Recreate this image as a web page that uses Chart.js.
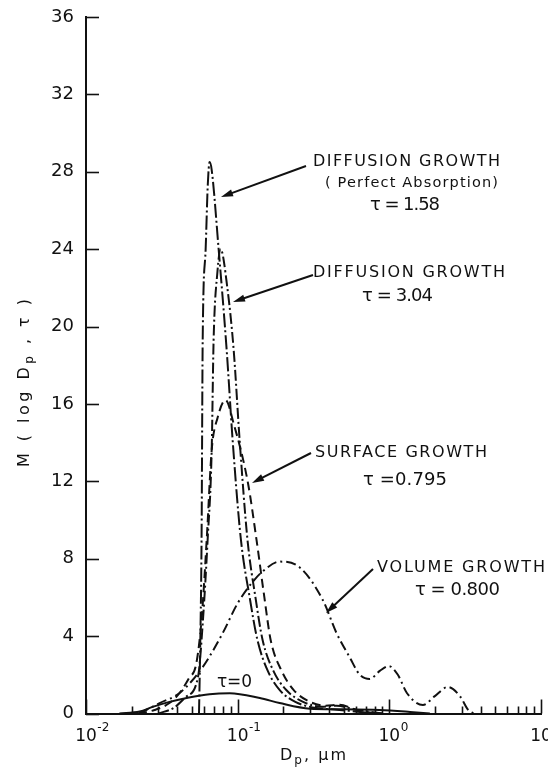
<!DOCTYPE html>
<html>
<head>
<meta charset="utf-8">
<script src="https://cdn.jsdelivr.net/npm/chart.js@4.4.1/dist/chart.umd.min.js"></script>
<style>
  html, body { margin: 0; padding: 0; background: #fff; }
  canvas { display: block; }
</style>
</head>
<body>
<canvas id="chart" width="548" height="769"></canvas>
<script>
// tau = 0 (distribution initiale)
const tau0D = [0.0166, 0.0226, 0.0275, 0.0355, 0.0461, 0.0653, 0.0886, 0.140, 0.189, 0.299, 0.47, 0.86, 1.37, 1.85];
const tau0M = [0, 0.1, 0.34, 0.6, 0.8, 1.0, 1.05, 0.8, 0.54, 0.25, 0.22, 0.18, 0.08, 0];

// diffusion growth, perfect absorption, tau = 1.58
const absorbD = [0.0556, 0.0565, 0.0578, 0.0588, 0.0615, 0.0635, 0.0653, 0.0674, 0.0749, 0.0846, 0.0927, 0.105, 0.120, 0.135, 0.158, 0.19, 0.24, 0.32, 0.45, 0.7, 0.9];
const absorbM = [0, 3, 9, 19.3, 24, 27.3, 28.5, 28.1, 24.0, 18.8, 14.1, 9.0, 6.0, 3.8, 2.2, 1.2, 0.6, 0.3, 0.2, 0.05, 0];

// diffusion growth, tau = 3.04
const diffD = [0.030, 0.038, 0.0455, 0.0548, 0.0590, 0.0634, 0.0674, 0.0694, 0.0735, 0.0772, 0.0855, 0.0941, 0.1031, 0.116, 0.131, 0.146, 0.172, 0.21, 0.27, 0.36, 0.45, 0.6, 0.9];
const diffM = [0, 0.3, 0.85, 1.9, 4.8, 9.0, 13.6, 19.3, 22.8, 24.0, 22.0, 18.8, 14.1, 9.0, 6.0, 3.8, 2.2, 1.2, 0.6, 0.35, 0.4, 0.2, 0];

// surface growth, tau = 0.795
const surfD = [0.022, 0.0283, 0.0355, 0.0414, 0.0475, 0.0534, 0.058, 0.0625, 0.0674, 0.0738, 0.0833, 0.094, 0.117, 0.133, 0.150, 0.165, 0.195, 0.235, 0.30, 0.38, 0.47, 0.6, 0.8];
const surfM = [0, 0.18, 0.54, 1.06, 1.8, 2.6, 5.0, 9.0, 13.6, 15.3, 16.2, 15.0, 11.9, 9.0, 6.0, 3.8, 2.2, 1.2, 0.6, 0.4, 0.45, 0.2, 0];

// volume growth, tau = 0.800
const volD = [0.0225, 0.0306, 0.0414, 0.0588, 0.0796, 0.100, 0.124, 0.144, 0.189, 0.2565, 0.364, 0.449, 0.548, 0.639, 0.743, 0.865, 0.993, 1.138, 1.305, 1.665, 1.996, 2.43, 2.92, 3.3, 3.6];
const volM = [0, 0.54, 1.06, 2.4, 4.15, 5.7, 6.75, 7.3, 7.85, 7.55, 5.87, 4.15, 2.9, 2.0, 1.78, 2.2, 2.45, 2.0, 1.06, 0.44, 0.9, 1.37, 0.9, 0.2, 0];

// etiquettes des axes
const xExponents = ["-2", "-1", "0", "1"];
const yMin = 0, yMax = 36, yStep = 4;

const ink = "#111";
const fontName = "'DejaVu Sans', sans-serif";

function pts(xs, ys) {
  return xs.map((x, i) => ({ x: x, y: ys[i] }));
}

// texte ajuste a une largeur donnee (espacement des lettres)
function fitText(ctx, text, x1, x2, y, size) {
  ctx.font = size + "px " + fontName;
  ctx.letterSpacing = "0px";
  const w = ctx.measureText(text).width;
  const sp = text.length > 1 ? (x2 - x1 - w) / (text.length - 1) : 0;
  ctx.letterSpacing = sp + "px";
  ctx.textAlign = "left";
  ctx.textBaseline = "middle";
  ctx.fillText(text, x1, y);
  ctx.letterSpacing = "0px";
}

// texte avec indices, centre en (0,0) du repere courant
function richText(ctx, parts, width) {
  let natural = 0, count = 0;
  parts.forEach((p) => {
    ctx.font = p.size + "px " + fontName;
    ctx.letterSpacing = "0px";
    p.w = ctx.measureText(p.t).width;
    natural += p.w;
    count += p.t.length;
  });
  const sp = (width - natural) / (count - 1);
  let x = -width / 2;
  ctx.textAlign = "left";
  ctx.textBaseline = "middle";
  parts.forEach((p) => {
    ctx.font = p.size + "px " + fontName;
    ctx.letterSpacing = sp + "px";
    ctx.fillText(p.t, x, p.dy || 0);
    x += p.w + sp * p.t.length;
  });
  ctx.letterSpacing = "0px";
}

function arrow(ctx, x1, y1, x2, y2) {
  const a = Math.atan2(y2 - y1, x2 - x1);
  const len = 12, half = 3.6;
  ctx.beginPath();
  ctx.moveTo(x1, y1);
  ctx.lineTo(x2 - Math.cos(a) * len * 0.7, y2 - Math.sin(a) * len * 0.7);
  ctx.stroke();
  ctx.beginPath();
  ctx.moveTo(x2, y2);
  ctx.lineTo(x2 - len * Math.cos(a) + half * Math.sin(a), y2 - len * Math.sin(a) - half * Math.cos(a));
  ctx.lineTo(x2 - len * Math.cos(a) - half * Math.sin(a), y2 - len * Math.sin(a) + half * Math.cos(a));
  ctx.closePath();
  ctx.fill();
}

const decorPlugin = {
  id: "decor",
  beforeDraw(chart) {
    const ctx = chart.ctx;
    ctx.save();
    ctx.fillStyle = "#fff";
    ctx.fillRect(0, 0, chart.width, chart.height);
    ctx.restore();
  },
  afterDraw(chart) {
    const ctx = chart.ctx;
    const xs = chart.scales.x, ys = chart.scales.y;
    const area = chart.chartArea;
    ctx.save();
    ctx.strokeStyle = ink;
    ctx.fillStyle = ink;

    // graduations vers l'interieur
    ctx.lineWidth = 1.6;
    ys.ticks.forEach((t) => {
      const py = Math.round(ys.getPixelForValue(t.value)) + 0.5;
      ctx.beginPath();
      ctx.moveTo(area.left, py);
      ctx.lineTo(area.left + 13, py);
      ctx.stroke();
    });
    for (let e = -2; e <= 1; e++) {
      for (let k = 1; k <= 9; k++) {
        const v = k * Math.pow(10, e);
        if (v > xs.max * 1.0001) break;
        const px = Math.round(xs.getPixelForValue(v)) + 0.5;
        const len = k === 1 ? 14 : 7;
        ctx.beginPath();
        ctx.moveTo(px, area.bottom);
        ctx.lineTo(px, area.bottom - len);
        ctx.stroke();
      }
    }

    // etiquettes de l'axe x : 10 puissance n
    ctx.textBaseline = "middle";
    xExponents.forEach((ex) => {
      const px = xs.getPixelForValue(Math.pow(10, Number(ex)));
      ctx.font = "17px " + fontName;
      ctx.textAlign = "center";
      const w = ctx.measureText("10").width;
      ctx.fillText("10", px, 737);
      ctx.font = "12px " + fontName;
      ctx.textAlign = "left";
      ctx.fillText(ex, px + w / 2 + 0.5, 728);
    });

    // titres des axes
    ctx.save();
    ctx.translate(313, 756);
    richText(ctx, [
      { t: "D", size: 16 },
      { t: "p", size: 12, dy: 5 },
      { t: ", \u03bcm", size: 16 },
    ], 66);
    ctx.restore();

    ctx.save();
    ctx.translate(25, 383);
    ctx.rotate(-Math.PI / 2);
    richText(ctx, [
      { t: "M ( log D", size: 16 },
      { t: "p", size: 12, dy: 5 },
      { t: " , \u03c4 )", size: 16 },
    ], 168);
    ctx.restore();

    // annotations
    fitText(ctx, "DIFFUSION GROWTH", 313, 500, 162, 16);
    fitText(ctx, "( Perfect Absorption)", 325, 498, 183, 14.5);
    fitText(ctx, "\u03c4 = 1.58", 370, 440, 205, 18);
    fitText(ctx, "DIFFUSION GROWTH", 313, 505, 273, 16);
    fitText(ctx, "\u03c4 = 3.04", 362, 433, 296, 18);
    fitText(ctx, "SURFACE GROWTH", 315, 487, 453, 16);
    fitText(ctx, "\u03c4 =0.795", 363, 447, 480, 18);
    fitText(ctx, "VOLUME GROWTH", 377, 545, 568, 16);
    fitText(ctx, "\u03c4 = 0.800", 415, 500, 590, 18);
    fitText(ctx, "\u03c4=0", 217, 252, 683, 17);

    ctx.lineWidth = 2;
    arrow(ctx, 306, 166, 221, 197);
    arrow(ctx, 313, 275, 233, 302);
    arrow(ctx, 311, 453, 252, 483);
    arrow(ctx, 373, 569, 326, 613);
    ctx.restore();
  },
};

function curve(xs, ys, dash) {
  return {
    data: pts(xs, ys),
    borderColor: ink,
    borderWidth: 2,
    borderDash: dash,
    pointRadius: 0,
    fill: false,
    cubicInterpolationMode: "monotone",
  };
}

const ctx = document.getElementById("chart").getContext("2d");
const chart = new Chart(ctx, {
  type: "line",
  data: {
    datasets: [
      curve(tau0D, tau0M, []),
      curve(volD, volM, [10, 4, 2, 4]),
      curve(surfD, surfM, [9, 5]),
      curve(diffD, diffM, [11, 3, 2, 3]),
      curve(absorbD, absorbM, [14, 3, 2, 3]),
    ],
  },
  options: {
    responsive: false,
    animation: false,
    devicePixelRatio: 1,
    parsing: true,
    plugins: {
      legend: { display: false },
      tooltip: { enabled: false },
    },
    scales: {
      x: {
        type: "logarithmic",
        min: 0.01,
        max: 10,
        ticks: { display: false },
        grid: { display: true, drawOnChartArea: false, drawTicks: false },
        border: { display: true, color: ink, width: 2 },
        afterFit: (scale) => {
          scale.height = 55.5;
          scale.paddingLeft = 0;
          scale.paddingRight = 7;
        },
      },
      y: {
        type: "linear",
        min: yMin,
        max: yMax,
        ticks: {
          stepSize: yStep,
          color: ink,
          padding: 12,
          font: { family: "DejaVu Sans", size: 18 },
        },
        grid: { display: true, drawOnChartArea: false, drawTicks: false },
        border: { display: true, color: ink, width: 2 },
        afterFit: (scale) => {
          scale.width = 86;
          scale.paddingTop = 17;
          scale.paddingBottom = 0;
        },
      },
    },
  },
  plugins: [decorPlugin],
});
</script>
</body>
</html>
